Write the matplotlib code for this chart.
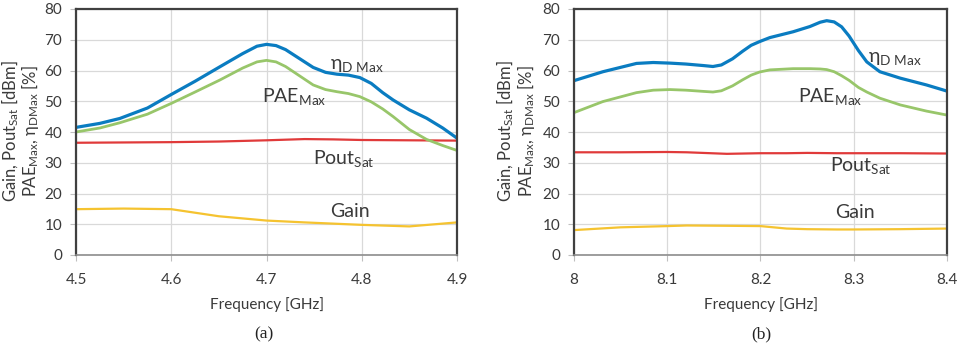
import matplotlib
matplotlib.use("Agg")
import matplotlib.pyplot as plt

plt.rcParams['font.family'] = ['Lato', 'DejaVu Sans']
plt.rcParams['mathtext.fontset'] = 'custom'
plt.rcParams['mathtext.rm'] = 'Lato'
plt.rcParams['mathtext.it'] = 'Lato'
plt.rcParams['mathtext.bf'] = 'Lato'

# ---------- panel (a) ----------
freq_a = [4.5, 4.525, 4.546, 4.575, 4.6, 4.625, 4.651, 4.675, 4.69, 4.7, 4.71, 4.72, 4.735,
          4.749, 4.762, 4.774, 4.786, 4.798, 4.81, 4.822, 4.833, 4.85, 4.868, 4.885, 4.9]
eta_a = [41.5, 42.8, 44.4, 47.8, 52.2, 56.5, 61.2, 65.5, 67.9, 68.5, 68.1, 66.8, 63.8,
         61.0, 59.4, 58.8, 58.5, 57.7, 55.8, 52.8, 50.4, 47.2, 44.5, 41.3, 38.0]
pae_a = [40.0, 41.3, 43.0, 45.8, 49.3, 53.0, 56.9, 60.8, 62.8, 63.3, 62.8, 61.3, 58.2,
         55.3, 53.8, 53.1, 52.5, 51.5, 49.8, 47.5, 45.0, 40.8, 37.6, 35.6, 34.0]

freq_a2 = [4.5, 4.55, 4.6, 4.65, 4.7, 4.74, 4.77, 4.8, 4.85, 4.9]
pout_a = [36.5, 36.6, 36.7, 36.9, 37.3, 37.7, 37.6, 37.4, 37.3, 37.2]
gain_a = [14.9, 15.1, 14.9, 12.6, 11.2, 10.6, 10.2, 9.8, 9.3, 10.6]

# ---------- panel (b) ----------
freq_b = [8.0, 8.031, 8.067, 8.085, 8.103, 8.12, 8.139, 8.149, 8.158, 8.17, 8.181, 8.19, 8.199,
          8.21, 8.235, 8.253, 8.264, 8.271, 8.279, 8.287, 8.295, 8.305, 8.314, 8.328, 8.35,
          8.378, 8.4]
eta_b = [56.7, 59.6, 62.3, 62.6, 62.4, 62.1, 61.6, 61.3, 61.8, 63.8, 66.3, 68.2, 69.4,
         70.7, 72.6, 74.3, 75.7, 76.2, 75.8, 74.2, 71.2, 66.5, 62.8, 59.6, 57.5,
         55.3, 53.3]
pae_b = [46.3, 49.9, 52.8, 53.6, 53.8, 53.6, 53.2, 53.0, 53.4, 55.0, 57.0, 58.5, 59.5,
         60.2, 60.6, 60.6, 60.5, 60.3, 59.6, 58.3, 56.8, 54.5, 53.0, 51.0, 48.8,
         46.8, 45.5]

freq_b2 = [8.0, 8.05, 8.1, 8.121, 8.164, 8.2, 8.228, 8.25, 8.282, 8.3, 8.35, 8.4]
pout_b = [33.4, 33.4, 33.5, 33.4, 32.9, 33.1, 33.1, 33.2, 33.1, 33.1, 33.1, 33.0]
gain_b = [8.1, 9.0, 9.4, 9.6, 9.5, 9.4, 8.6, 8.4, 8.3, 8.3, 8.4, 8.6]

xticks_a = [4.5, 4.6, 4.7, 4.8, 4.9]
xticks_b = [8.0, 8.1, 8.2, 8.3, 8.4]
xticklabels_a = ['4.5', '4.6', '4.7', '4.8', '4.9']
xticklabels_b = ['8', '8.1', '8.2', '8.3', '8.4']
yticks = [0, 10, 20, 30, 40, 50, 60, 70, 80]

C_BLUE = '#0a7cc1'
C_GREEN = '#98c66a'
C_RED = '#e03a3a'
C_YEL = '#f5c330'
C_TXT = '#3a3a3a'

fig = plt.figure(figsize=(9.58, 3.5), dpi=100)
ax_a = fig.add_axes([76/958, 1-255/350, (457-76)/958, (255-9)/350])
ax_b = fig.add_axes([574/958, 1-255/350, (947-574)/958, (255-9)/350])

def style(ax, xt, xtl):
    ax.set_ylim(0, 80)
    ax.set_yticks(yticks)
    ax.set_xticks(xt)
    ax.set_xticklabels(xtl)
    ax.set_xlim(xt[0], xt[-1])
    ax.grid(True, color='#d9d9d9', linewidth=0.9)
    ax.set_axisbelow(True)
    for s in ['left', 'top', 'right']:
        ax.spines[s].set_color('#404040')
        ax.spines[s].set_linewidth(1.6)
    ax.spines['bottom'].set_color('#8c8c8c')
    ax.spines['bottom'].set_linewidth(1.2)
    ax.tick_params(axis='both', length=4, color='#bfbfbf', labelsize=11,
                   labelcolor=C_TXT)
    ax.tick_params(axis='y', pad=6)
    ax.tick_params(axis='x', pad=9)
    ax.set_xlabel('Frequency [GHz]', fontsize=11, color=C_TXT, labelpad=7)

def plot_lines(ax, f, eta, pae, f2, pout, gain):
    ax.plot(f2, gain, color=C_YEL, lw=1.6, solid_capstyle='butt', clip_on=False)
    ax.plot(f2, pout, color=C_RED, lw=1.6, solid_capstyle='butt', clip_on=False)
    ax.plot(f, pae, color=C_GREEN, lw=2.0, solid_capstyle='butt', clip_on=False)
    ax.plot(f, eta, color=C_BLUE, lw=2.3, solid_capstyle='butt', clip_on=False)

style(ax_a, xticks_a, xticklabels_a)
style(ax_b, xticks_b, xticklabels_b)
plot_lines(ax_a, freq_a, eta_a, pae_a, freq_a2, pout_a, gain_a)
plot_lines(ax_b, freq_b, eta_b, pae_b, freq_b2, pout_b, gain_b)

lbl = dict(fontsize=14, color=C_TXT, ha='left', va='center')
ax_a.text(4.767, 61.5, r'$\mathrm{η}_{\mathrm{D\ Max}}$', **lbl)
ax_a.text(4.695, 51.5, r'$\mathrm{PAE}_{\mathrm{Max}}$', **lbl)
ax_a.text(4.749, 31.5, r'$\mathrm{Pout}_{\mathrm{Sat}}$', **lbl)
ax_a.text(4.767, 14.3, 'Gain', **lbl)

ax_b.text(8.315, 64.0, r'$\mathrm{η}_{\mathrm{D\ Max}}$', **lbl)
ax_b.text(8.240, 51.5, r'$\mathrm{PAE}_{\mathrm{Max}}$', **lbl)
ax_b.text(8.2745, 29.0, r'$\mathrm{Pout}_{\mathrm{Sat}}$', **lbl)
ax_b.text(8.28, 13.7, 'Gain', **lbl)

yl1 = r'Gain, Pout$_{\mathrm{Sat}}$ [dBm]'
yl2 = r'PAE$_{\mathrm{Max}}$, $\mathrm{η}_{\mathrm{DMax}}$ [%]'
for x1, x2 in [(10, 30), (505, 526)]:
    fig.text(x1/958, 1-131/350, yl1, rotation=90, ha='center', va='center',
             fontsize=12, color=C_TXT)
    fig.text(x2/958, 1-131/350, yl2, rotation=90, ha='center', va='center',
             fontsize=12, color=C_TXT)

fig.text(264/958, 1-334/350, '(a)', ha='center', va='center', fontsize=12.5,
         family=['Liberation Serif'], color='#222222')
fig.text(761/958, 1-334/350, '(b)', ha='center', va='center', fontsize=12.5,
         family=['Liberation Serif'], color='#222222')

fig.savefig('out.png', dpi=100, facecolor='white')
